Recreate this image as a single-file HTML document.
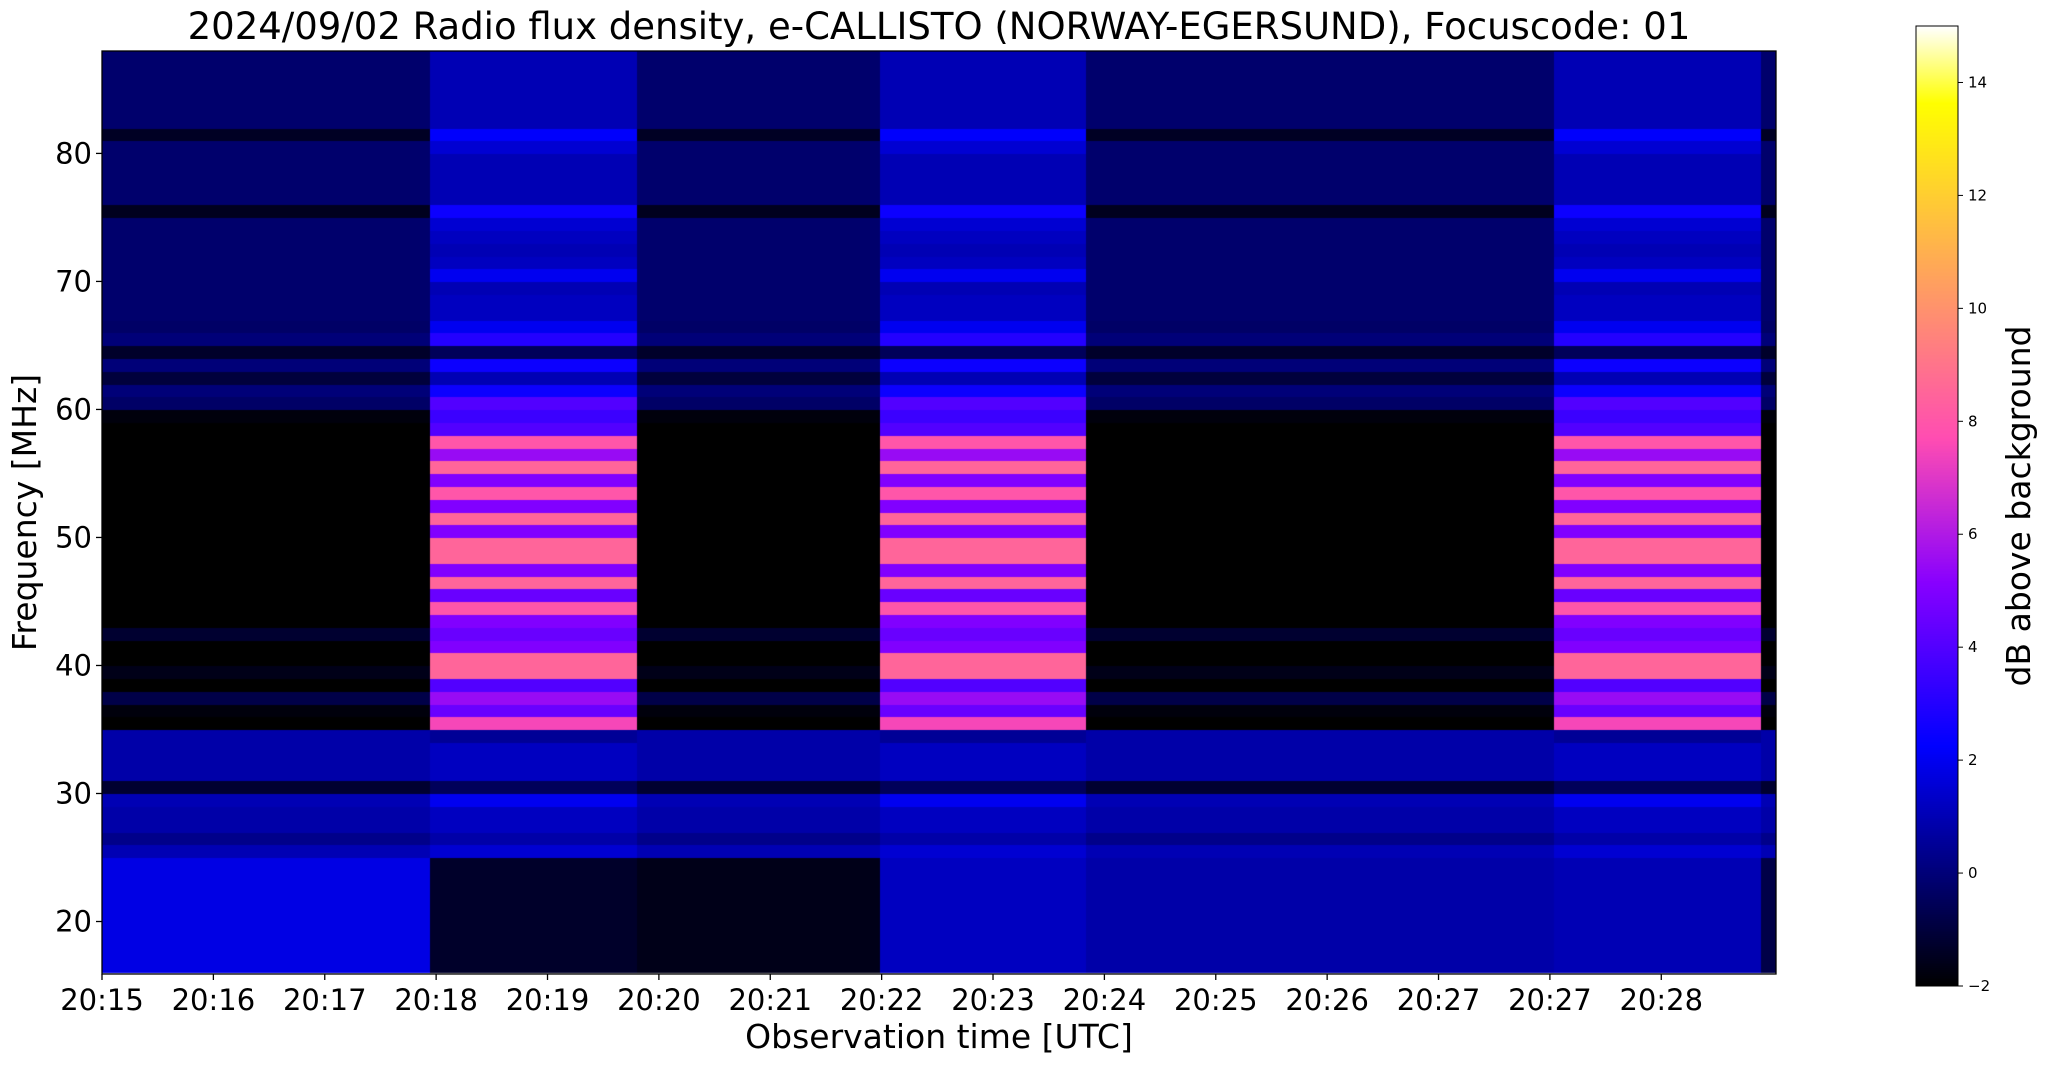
<!DOCTYPE html>
<html><head><meta charset="utf-8">
<style>
body{margin:0;background:#fff;width:2047px;height:1067px;overflow:hidden;font-family:"DejaVu Sans","Liberation Sans",sans-serif;}
#wrap{position:relative;width:2047px;height:1067px;}
canvas{position:absolute;}
svg{position:absolute;left:0;top:0;}
</style></head>
<body>
<div id="wrap">
<canvas id="hm" width="1674" height="923" style="left:102px;top:51px;"></canvas>
<canvas id="cb" width="42" height="960" style="left:1916px;top:26px;"></canvas>
<svg id="ax" width="2047" height="1067"></svg>
</div>
<script>
// ---- data ----
const freqRows = [16,17,18,19,20,21,22,23,24,25,26,27,28,29,30,31,32,33,34,35,36,37,38,39,40,41,42,43,44,45,46,47,48,49,50,51,52,53,54,55,56,57,58,59,60,61,62,63,64,65,66,67,68,69,70,71,72,73,74,75,76,77,78,79,80,81,82,83,84,85,86,87];
const activeProfile = [1.3,1.3,1.3,1.3,1.3,1.3,1.3,1.3,1.3,1.5,0.8,1.2,1.2,2.0,-0.5,1.2,1.2,1.2,0.5,7.5,4.5,5.5,4,8.5,8.5,5,4.5,5,8,4.5,8.5,5,8.5,8.5,5,8.5,5,8,5,8.5,5.5,8,4,3.5,4,2.5,1,2.5,-0.5,3,2,1.2,1.2,1.0,2,1.2,1.0,1.2,1.5,2.5,1.0,1.0,1.0,1.0,1.5,2.2,1.0,1.0,1.0,1.0,1.0,1.0];
const quietProfile = [1.5,1.5,1.5,1.5,1.5,1.5,1.5,1.5,1.5,1.0,0.3,0.8,0.8,1.0,-1.2,0.8,0.8,0.8,0.8,-2,-1.8,-0.8,-2,-1.6,-2,-2,-1.2,-2,-2,-2,-2,-2,-2,-2,-2,-2,-2,-2,-2,-2,-2,-2,-2,-1.8,-0.3,0,-1,0,-1.3,0,-0.3,-0.2,-0.2,-0.2,-0.2,-0.2,-0.2,-0.2,-0.2,-1.5,-0.2,-0.2,-0.2,-0.2,-0.2,-1.4,-0.2,-0.2,-0.2,-0.2,-0.2,-0.2];
const segStart = [0, 2.95, 4.81, 6.99, 8.84, 13.04, 14.90];
const segEnd   = [2.95, 4.81, 6.99, 8.84, 13.04, 14.90, 15.03];
const segActive = [0,1,0,1,0,1,0];
const segLowBand = [1.8, -1.3, -1.6, 1.2, 0.8, 1.0, -0.8];
const xTickLabels = ["20:15","20:16","20:17","20:18","20:19","20:20","20:21","20:22","20:23","20:24","20:25","20:26","20:27","20:27","20:28"];
const yTicks = [20,30,40,50,60,70,80];
const cbTicks = [-2,0,2,4,6,8,10,12,14];

// ---- scales ----
const PL=102,PR=1776,PT=51,PB=974, XMAX=15.03, YMIN=15.9, YMAX=88;
const xS = m => PL + m/XMAX*(PR-PL);
const yS = f => PB - (f-YMIN)/(YMAX-YMIN)*(PB-PT);
const VMIN=-2,VMAX=15;
function cmap(v){
  let x=Math.max(0,Math.min(1,(v-VMIN)/(VMAX-VMIN)));
  const c=t=>Math.round(255*Math.max(0,Math.min(1,t)));
  let r=x/0.32-0.78125, g=2*x-0.84, b;
  if(x<0.25) b=4*x; else if(x<0.42) b=1; else if(x<0.92) b=-2*x+1.84; else b=x/0.08-11.5;
  return `rgb(${c(r)},${c(g)},${c(b)})`;
}

// ---- heatmap ----
const hm=document.getElementById('hm').getContext('2d');
for(let s=0;s<segStart.length;s++){
  const x0=xS(segStart[s])-PL, x1=xS(segEnd[s])-PL;
  for(let i=0;i<freqRows.length;i++){
    const f=freqRows[i];
    let v = segActive[s] ? activeProfile[i] : quietProfile[i];
    if(f<25) v = segLowBand[s];
    const yTop=yS(Math.min(f+1,YMAX))-PT, yBot=yS(Math.max(f,YMIN))-PT;
    hm.fillStyle=cmap(v);
    hm.fillRect(Math.floor(x0),Math.floor(yTop),Math.ceil(x1-x0)+1,Math.ceil(yBot-yTop)+1);
  }
}

// ---- colorbar ----
const cb=document.getElementById('cb').getContext('2d');
for(let y=0;y<960;y++){ cb.fillStyle=cmap(VMAX-(y/960)*(VMAX-VMIN)); cb.fillRect(0,y,42,1); }

// ---- axes ----
const svg=document.getElementById('ax'), NS='http://www.w3.org/2000/svg';
function mk(tag,attrs,txt){const e=document.createElementNS(NS,tag);for(const k in attrs)e.setAttribute(k,attrs[k]);if(txt!==undefined)e.textContent=txt;svg.appendChild(e);return e;}
let e;
e=mk('rect',{x:PL,y:PT,width:PR-PL,height:PB-PT,fill:'none',stroke:'#000','stroke-width':1.3});


xTickLabels.forEach((lab,i)=>{
  const x=xS(i);
  e=mk('line',{x1:x,x2:x,y1:PB,y2:PB+6,stroke:'#000','stroke-width':1.3});
  
  
  e=mk('text',{x:x,y:PB+36,'font-size':29,'text-anchor':'middle'},lab);
  
  
});
yTicks.forEach(f=>{
  const y=yS(f);
  e=mk('line',{x1:PL-6,x2:PL,y1:y,y2:y,stroke:'#000','stroke-width':1.3});
  
  
  e=mk('text',{x:PL-10,y:y+10,'font-size':29,'text-anchor':'end'},String(f));
  
  
});
e=mk('text',{x:(PL+PR)/2,y:39,'font-size':37,'text-anchor':'middle','xml:space':'preserve'},'2024/09/02  Radio flux density, e-CALLISTO (NORWAY-EGERSUND), Focuscode: 01');


e=mk('text',{x:(PL+PR)/2,y:1048,'font-size':33,'text-anchor':'middle'},'Observation time [UTC]');


e=mk('text',{x:36,y:(PT+PB)/2,'font-size':33,'text-anchor':'middle',transform:`rotate(-90 36 ${(PT+PB)/2})`},'Frequency [MHz]');


const CL=1916,CR=1958,CT=26,CB=986;
e=mk('rect',{x:CL,y:CT,width:CR-CL,height:CB-CT,fill:'none',stroke:'#000','stroke-width':1});


const cy=v=>CB-(v-VMIN)/(VMAX-VMIN)*(CB-CT);
cbTicks.forEach(v=>{
  const y=cy(v);
  e=mk('line',{x1:CR,x2:CR+5,y1:y,y2:y,stroke:'#000','stroke-width':1});
  
  
  e=mk('text',{x:CR+10,y:y+5,'font-size':15},v<0?'\u2212'+Math.abs(v):String(v));
  
  
});
e=mk('text',{x:2030,y:(CT+CB)/2,'font-size':33,'text-anchor':'middle',transform:`rotate(-90 2030 ${(CT+CB)/2})`},'dB above background');


</script>
</body></html>
